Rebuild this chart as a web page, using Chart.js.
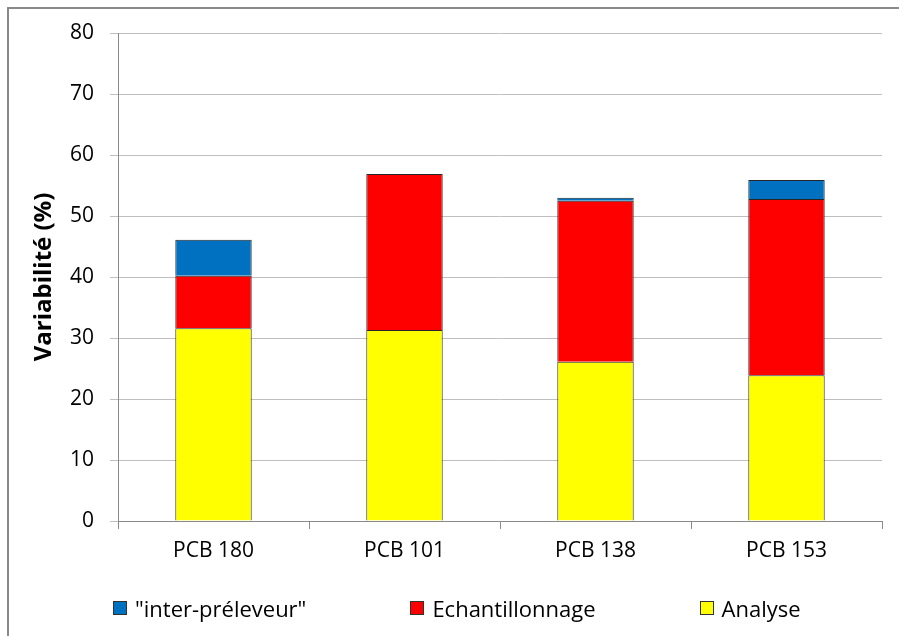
<!DOCTYPE html>
<html>
<head>
<meta charset="utf-8">
<script src="https://cdn.jsdelivr.net/npm/chart.js@4"></script>
<style>
body{margin:0;background:#fff;}
#frame{position:absolute;left:7px;top:7px;width:900px;height:640px;border:2px solid #898989;box-sizing:border-box;}
#wrap{position:absolute;left:0;top:0;width:899px;height:636px;}
#legend{position:absolute;left:113px;top:593px;display:flex;gap:104px;font-family:'Open Sans',sans-serif;font-size:22px;color:#000;}
#legend .item{display:flex;align-items:center;white-space:nowrap;}
#legend .box{width:12px;height:12px;border:1px solid #333;margin-right:8px;}
</style>
</head>
<body>
<div id="frame"></div>
<div id="wrap"><canvas id="c"></canvas></div>
<div id="legend"></div>
<script>
// data
const categories = ["PCB 180","PCB 101","PCB 138","PCB 153"]
const analyse = [31.6,31.3,26.1,23.9]
const echantillonnage = [8.6,25.6,26.4,28.9]
const interPreleveur = [5.9,0,0.5,3.1]
const yTicks = [0,10,20,30,40,50,60,70,80]

const font = "'Open Sans', sans-serif"

// html legend, same order as the picture (top of stack first)
const htmlLegend = {
id:"htmlLegend",
afterUpdate(chart){
const ul = document.getElementById("legend")
ul.innerHTML = ""
chart.options.plugins.legend.labels.generateLabels(chart).reverse().forEach(it=>{
const li = document.createElement("div")
li.className = "item"
const b = document.createElement("span")
b.className = "box"
b.style.background = it.fillStyle
const t = document.createElement("span")
t.textContent = it.text
li.appendChild(b)
li.appendChild(t)
ul.appendChild(li)
})
}
}

new Chart(document.getElementById("c"),{
type:"bar",
data:{
labels:categories,
datasets:[
{label:"Analyse",data:analyse,backgroundColor:"#ffff00",borderColor:"#262626",borderWidth:1},
{label:"Echantillonnage",data:echantillonnage,backgroundColor:"#ff0000",borderColor:"#262626",borderWidth:1},
{label:"\"inter-préleveur\"",data:interPreleveur,backgroundColor:"#0070c0",borderColor:"#262626",borderWidth:1}
]
},
plugins:[htmlLegend],
options:{
responsive:true,
maintainAspectRatio:false,
animation:false,
layout:{padding:{left:30,right:17,top:33,bottom:75}},
datasets:{bar:{categoryPercentage:1,barPercentage:0.4}},
plugins:{
tooltip:{enabled:false},
legend:{display:false}
},
scales:{
x:{
stacked:true,
afterFit:function(s){s.height=40},
grid:{drawOnChartArea:false,tickLength:8,color:"#898989"},
border:{color:"#898989"},
ticks:{color:"#000",font:{family:font,size:21},padding:9}
},
y:{
stacked:true,
min:0,max:80,
afterFit:function(s){s.width=88},
afterBuildTicks:function(s){s.ticks=yTicks.map(v=>({value:v}))},
grid:{color:"#bfbfbf",tickLength:8},
border:{color:"#898989"},
title:{display:true,text:"Variabilité (%)",color:"#000",font:{family:font,size:24,weight:"bold"},padding:0},
ticks:{color:"#000",font:{family:font,size:21},padding:16}
}
}
}
})
</script>
</body>
</html>
